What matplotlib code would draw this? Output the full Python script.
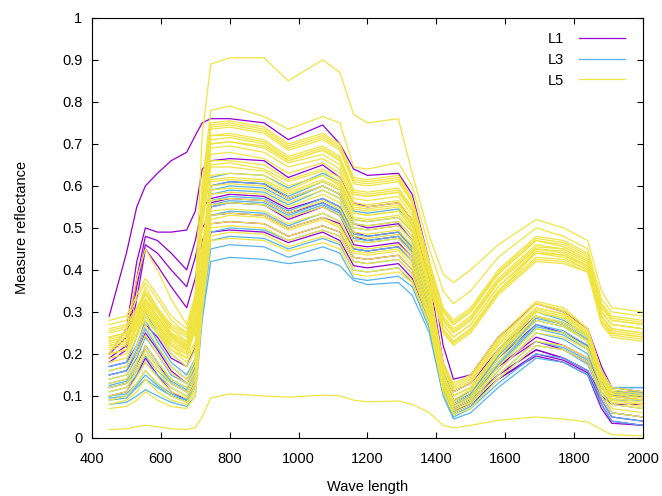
import matplotlib
matplotlib.use("Agg")
import matplotlib.pyplot as plt

plt.rcParams['font.family'] = ['Liberation Sans', 'DejaVu Sans']

wl = [450, 500, 530, 555, 590, 630, 675, 700, 720, 745, 800, 900, 970, 1070, 1120,
      1160, 1200, 1290, 1330, 1380, 1420, 1450, 1500, 1580, 1690, 1770, 1840, 1880, 1910, 2000]

# L1 spectra (reflectance)
L1 = [
    [.29, .44, .55, .60, .63, .66, .68, .72, .75, .76, .76, .75, .71, .745, .70, .64, .625, .63, .58, .42, .22, .14, .15, .24, .32, .30, .26, .17, .12, .11],
    [.20, .26, .42, .50, .49, .49, .495, .54, .64, .66, .665, .66, .62, .65, .62, .56, .55, .56, .52, .38, .18, .11, .13, .21, .29, .27, .23, .15, .10, .09],
    [.20, .24, .38, .48, .47, .44, .40, .47, .55, .57, .58, .575, .545, .57, .55, .49, .48, .49, .45, .32, .14, .08, .10, .17, .23, .21, .18, .10, .06, .05],
    [.19, .22, .36, .46, .44, .40, .36, .43, .50, .53, .535, .53, .50, .525, .51, .45, .445, .455, .42, .30, .13, .07, .09, .15, .21, .19, .16, .08, .04, .03],
    [.18, .21, .33, .45, .41, .36, .31, .38, .47, .51, .515, .51, .48, .505, .49, .43, .425, .435, .40, .29, .12, .065, .08, .14, .195, .18, .15, .07, .035, .03],
    [.17, .18, .22, .27, .24, .19, .17, .22, .42, .56, .57, .565, .535, .56, .54, .48, .47, .48, .44, .31, .13, .08, .10, .17, .24, .22, .19, .12, .10, .10],
    [.12, .13, .17, .22, .18, .13, .11, .15, .35, .49, .495, .49, .465, .49, .47, .41, .405, .415, .38, .27, .12, .07, .09, .15, .21, .19, .16, .10, .08, .08],
    [.10, .11, .15, .19, .15, .11, .09, .14, .36, .55, .56, .555, .52, .55, .53, .46, .455, .465, .43, .30, .12, .06, .08, .14, .20, .185, .155, .09, .05, .04],
    [.15, .16, .20, .25, .21, .16, .13, .17, .40, .60, .61, .605, .57, .60, .58, .51, .50, .51, .47, .33, .15, .09, .11, .19, .27, .25, .22, .14, .11, .11],
]

# L3 spectra
L3 = [
    [.08, .085, .10, .115, .10, .085, .075, .10, .28, .42, .43, .425, .415, .425, .41, .375, .365, .37, .34, .25, .10, .045, .06, .12, .19, .18, .15, .08, .04, .03],
    [.09, .095, .12, .14, .12, .10, .085, .12, .30, .45, .46, .455, .43, .455, .44, .38, .375, .385, .36, .26, .11, .05, .07, .13, .20, .19, .16, .09, .05, .04],
    [.095, .10, .125, .15, .125, .10, .09, .12, .31, .47, .48, .475, .45, .475, .46, .40, .395, .405, .37, .27, .11, .055, .075, .14, .22, .21, .175, .10, .06, .05],
    [.10, .105, .13, .16, .13, .105, .09, .13, .33, .49, .50, .495, .47, .495, .48, .42, .415, .425, .39, .28, .12, .06, .08, .15, .23, .215, .185, .11, .08, .07],
    [.11, .12, .15, .18, .15, .12, .10, .14, .35, .53, .54, .535, .505, .535, .515, .45, .445, .455, .42, .29, .12, .065, .085, .16, .25, .235, .20, .12, .09, .09],
    [.12, .13, .16, .195, .16, .13, .11, .15, .37, .55, .56, .555, .525, .555, .535, .47, .465, .475, .44, .30, .13, .07, .09, .17, .26, .245, .21, .13, .10, .10],
    [.125, .135, .17, .21, .17, .135, .115, .15, .38, .555, .565, .56, .53, .56, .54, .475, .47, .48, .445, .305, .135, .075, .095, .175, .265, .25, .215, .135, .105, .105],
    [.13, .14, .18, .22, .18, .14, .12, .16, .39, .565, .575, .57, .54, .57, .55, .485, .48, .49, .455, .31, .14, .08, .10, .18, .27, .255, .22, .14, .11, .11],
    [.14, .15, .19, .24, .20, .15, .13, .17, .40, .58, .59, .585, .555, .59, .57, .50, .495, .505, .47, .32, .14, .08, .10, .19, .28, .265, .23, .15, .12, .12],
    [.15, .16, .21, .26, .215, .17, .14, .18, .41, .59, .60, .595, .565, .60, .58, .51, .505, .515, .48, .33, .145, .085, .105, .195, .285, .27, .235, .155, .12, .12],
    [.16, .17, .22, .28, .23, .18, .15, .19, .42, .60, .61, .605, .575, .61, .59, .52, .515, .525, .49, .34, .15, .09, .11, .20, .29, .275, .24, .16, .12, .12],
    [.17, .18, .24, .30, .25, .20, .17, .21, .44, .62, .63, .625, .595, .63, .61, .54, .535, .545, .51, .36, .16, .10, .12, .21, .30, .28, .245, .16, .11, .10],
]

# L5 spectra
L5 = [
    # lower SWIR bundle
    [.07, .075, .09, .11, .09, .075, .07, .10, .30, .47, .475, .47, .445, .465, .45, .39, .385, .395, .37, .27, .11, .055, .07, .14, .22, .21, .18, .10, .06, .05],
    [.08, .09, .11, .14, .11, .09, .08, .11, .31, .48, .49, .485, .455, .48, .465, .40, .395, .405, .375, .27, .11, .06, .08, .15, .23, .22, .19, .11, .07, .06],
    [.09, .10, .13, .16, .13, .10, .085, .12, .32, .50, .505, .50, .47, .495, .48, .42, .415, .425, .39, .28, .12, .065, .085, .16, .25, .24, .21, .12, .08, .07],
    [.10, .11, .145, .18, .145, .11, .095, .13, .33, .51, .515, .51, .48, .505, .49, .43, .425, .435, .40, .285, .125, .07, .09, .17, .26, .25, .215, .125, .085, .075],
    [.11, .12, .16, .20, .16, .12, .10, .14, .34, .52, .53, .525, .495, .52, .50, .44, .435, .445, .41, .29, .13, .075, .095, .18, .28, .265, .23, .13, .09, .08],
    [.12, .13, .17, .21, .17, .13, .11, .15, .355, .53, .535, .53, .50, .525, .505, .445, .44, .45, .42, .295, .135, .08, .10, .19, .29, .275, .24, .14, .095, .085],
    [.13, .14, .18, .22, .18, .14, .12, .16, .37, .54, .545, .54, .51, .535, .515, .455, .45, .46, .43, .30, .14, .085, .11, .20, .30, .285, .245, .15, .10, .09],
    [.14, .15, .20, .245, .20, .155, .13, .175, .38, .555, .56, .555, .525, .55, .53, .47, .465, .475, .44, .31, .145, .09, .115, .205, .305, .29, .25, .15, .105, .095],
    [.16, .17, .22, .27, .22, .17, .14, .19, .39, .565, .57, .565, .535, .565, .545, .48, .475, .485, .45, .32, .15, .10, .12, .21, .31, .295, .25, .15, .11, .10],
    [.18, .19, .24, .29, .25, .20, .17, .21, .40, .58, .585, .58, .55, .58, .56, .49, .485, .495, .46, .32, .15, .10, .12, .20, .29, .27, .23, .13, .09, .08],
    [.19, .20, .25, .30, .26, .21, .18, .22, .41, .59, .595, .59, .56, .59, .57, .50, .495, .505, .47, .33, .16, .11, .13, .22, .30, .285, .24, .14, .10, .09],
    [.20, .21, .26, .31, .27, .22, .19, .23, .42, .60, .605, .60, .57, .60, .58, .51, .505, .515, .48, .34, .165, .115, .135, .225, .31, .295, .25, .145, .105, .095],
    [.22, .23, .28, .33, .29, .24, .21, .25, .43, .61, .615, .61, .58, .61, .59, .52, .515, .525, .49, .35, .17, .12, .14, .23, .32, .30, .255, .15, .11, .10],
    [.23, .24, .29, .345, .30, .245, .215, .255, .44, .615, .62, .615, .585, .615, .595, .525, .52, .53, .495, .355, .175, .125, .145, .235, .32, .305, .26, .155, .115, .105],
    [.24, .25, .30, .36, .31, .25, .22, .26, .45, .625, .63, .625, .59, .625, .60, .535, .53, .54, .50, .36, .18, .13, .15, .24, .325, .31, .26, .16, .12, .11],
    # upper SWIR bundle
    [.26, .27, .31, .35, .31, .27, .25, .32, .60, .75, .755, .74, .70, .725, .70, .62, .615, .625, .57, .42, .31, .28, .31, .40, .48, .47, .44, .32, .29, .28],
    [.255, .265, .305, .345, .305, .265, .245, .315, .59, .745, .75, .735, .695, .72, .695, .615, .61, .62, .565, .415, .305, .275, .305, .395, .475, .465, .435, .315, .285, .275],
    [.25, .26, .30, .34, .30, .26, .24, .31, .58, .735, .74, .725, .685, .71, .685, .605, .60, .61, .56, .41, .30, .27, .30, .39, .47, .46, .43, .31, .28, .27],
    [.27, .28, .33, .37, .33, .28, .25, .33, .57, .72, .725, .71, .67, .695, .67, .59, .585, .595, .55, .40, .29, .26, .29, .38, .46, .45, .42, .30, .27, .26],
    [.235, .245, .285, .325, .285, .245, .225, .295, .56, .72, .72, .705, .665, .69, .665, .585, .58, .59, .545, .395, .285, .255, .285, .375, .455, .45, .42, .30, .27, .26],
    [.23, .24, .28, .32, .28, .24, .22, .29, .55, .71, .715, .70, .66, .685, .66, .58, .575, .585, .54, .39, .28, .25, .28, .37, .45, .445, .415, .30, .27, .26],
    [.22, .23, .27, .31, .27, .23, .21, .28, .54, .70, .705, .69, .655, .675, .65, .57, .565, .575, .53, .38, .27, .24, .27, .36, .44, .435, .41, .29, .26, .25],
    [.21, .22, .26, .30, .26, .22, .20, .27, .53, .69, .695, .68, .645, .665, .64, .56, .555, .565, .52, .37, .26, .23, .26, .35, .43, .425, .40, .28, .25, .24],
    [.215, .225, .265, .305, .265, .225, .205, .275, .535, .675, .68, .665, .63, .655, .63, .555, .55, .56, .515, .365, .255, .225, .255, .345, .425, .42, .395, .275, .245, .235],
    [.24, .25, .29, .33, .29, .25, .23, .29, .51, .66, .66, .65, .615, .64, .62, .55, .545, .555, .51, .36, .25, .22, .25, .34, .42, .415, .395, .27, .24, .23],
    [.225, .235, .275, .315, .275, .235, .215, .28, .52, .65, .655, .64, .61, .635, .61, .545, .54, .55, .505, .37, .27, .24, .27, .36, .445, .435, .405, .29, .255, .245],
    [.20, .21, .25, .29, .25, .21, .19, .26, .50, .645, .645, .635, .60, .625, .605, .535, .53, .54, .50, .36, .26, .23, .26, .35, .44, .43, .40, .28, .25, .24],
    [.28, .29, .34, .38, .34, .29, .26, .33, .56, .74, .745, .73, .69, .715, .69, .61, .605, .615, .56, .41, .30, .27, .30, .39, .47, .455, .425, .31, .28, .27],
    [.20, .26, .38, .45, .40, .33, .27, .34, .58, .70, .705, .695, .66, .685, .66, .58, .575, .585, .54, .39, .28, .25, .28, .37, .45, .44, .41, .29, .26, .25],
    [.24, .25, .29, .33, .30, .26, .23, .30, .60, .78, .79, .765, .735, .765, .75, .645, .64, .655, .60, .45, .35, .32, .35, .43, .50, .48, .45, .33, .30, .29],
    [.20, .21, .25, .28, .25, .22, .20, .35, .72, .89, .905, .905, .85, .90, .87, .77, .75, .76, .63, .48, .39, .37, .40, .46, .52, .50, .47, .35, .31, .30],
    # low outlier
    [.02, .022, .027, .03, .027, .022, .02, .025, .05, .095, .105, .10, .097, .102, .10, .09, .086, .088, .08, .06, .03, .024, .03, .042, .05, .045, .038, .02, .008, .005],
]

names = ["L1", "L3", "L5"]
colors = ["#9400D3", "#56B4E9", "#F0E442"]

fig = plt.figure(figsize=(6.62, 4.96), dpi=100)
ax = fig.add_axes([0.139, 0.117, 0.832, 0.847])

for name, curves, col in zip(names, [L1, L3, L5], colors):
    for i, c in enumerate(curves):
        ax.plot(wl, c, color=col, lw=0.9, label=name if i == 0 else None)

ax.set_xlim(400, 2000)
ax.set_ylim(0, 1)
ax.set_xticks(range(400, 2001, 200))
yt = [i / 10 for i in range(11)]
ax.set_yticks(yt)
ax.set_yticklabels(["0", "0.1", "0.2", "0.3", "0.4", "0.5", "0.6", "0.7", "0.8", "0.9", "1"])
ax.tick_params(direction="in", top=True, right=True, length=4, labelsize=10.5)
ax.tick_params(axis="x", pad=10)
ax.tick_params(axis="y", pad=7)
ax.set_xlabel("Wave length", fontsize=10.5, labelpad=10)
ax.set_ylabel("Measure reflectance", fontsize=10.5, labelpad=24)

leg = ax.legend(loc="upper right", frameon=False, markerfirst=False, fontsize=10.5,
                handlelength=3.2, handletextpad=1.0, labelspacing=0.45,
                borderaxespad=0.6, bbox_to_anchor=(0.995, 1.0))

fig.savefig("out.png", dpi=100)
